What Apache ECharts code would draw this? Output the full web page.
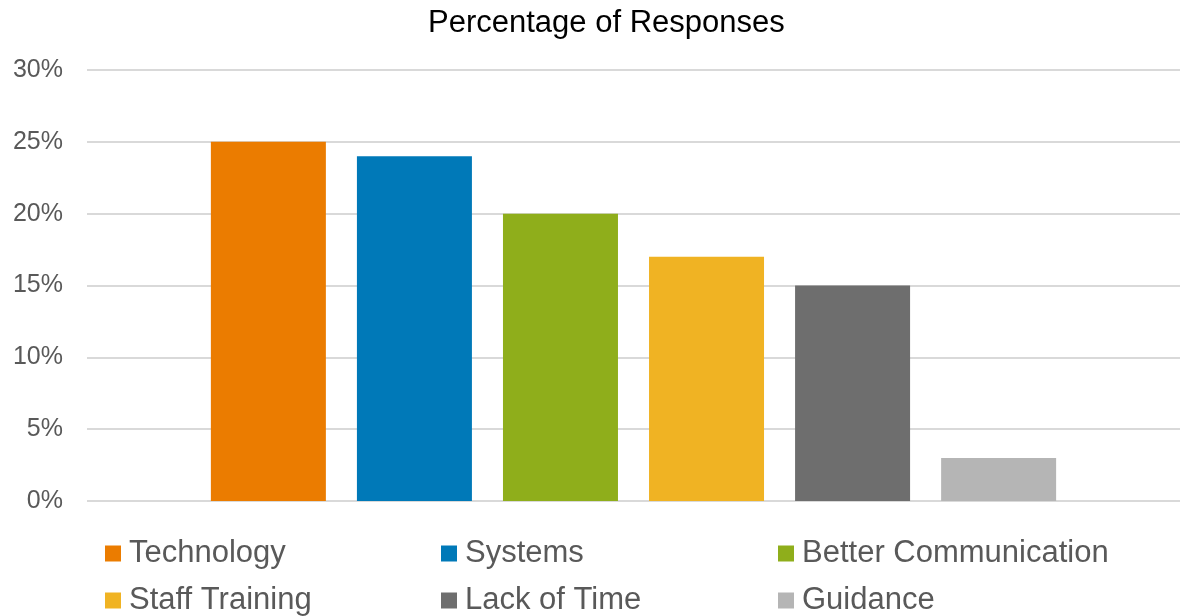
<!DOCTYPE html>
<html>
<head>
<meta charset="utf-8">
<title>Percentage of Responses</title>
<script src="https://cdn.jsdelivr.net/npm/echarts@6/dist/echarts.min.js"></script>
<style>
  html, body { margin: 0; padding: 0; background: #fff; }
  #chart { width: 1180px; height: 616px; }
</style>
</head>
<body>
<div id="chart"></div>
<script>
// --- 数据 ---
const categories = [''];
const seriesNames = ['Technology', 'Systems', 'Better Communication', 'Staff Training', 'Lack of Time', 'Guidance'];
const seriesValues = [25, 24, 20, 17, 15, 3];
const yTicks = [0, 5, 10, 15, 20, 25, 30];

// 配色
const COLORS = ['#EB7C00', '#0079B8', '#8FAE1B', '#F0B323', '#6E6E6E', '#B5B5B5'];
const TEXT = '#595959';
const GRID_LINE = '#D9D9D9';
const FONT = 'Liberation Sans, Arial, sans-serif';

const chart = echarts.init(document.getElementById('chart'));

// 图例：3 列 x 2 行，每项单独定位
const legendLeft = [100, 436, 773];
const legendTop = [533, 580];

const option = {
  backgroundColor: '#fff',
  animation: false,
  title: {
    text: 'Percentage of Responses',
    left: 423,
    top: 3,
    textStyle: { color: '#000', fontSize: 31, fontWeight: 'normal', fontFamily: FONT }
  },
  grid: { left: 87, right: -10, top: 70, bottom: 115, containLabel: false },
  legend: seriesNames.map((name, i) => ({
    left: legendLeft[i % 3],
    top: legendTop[Math.floor(i / 3)],
    data: [name],
    icon: 'rect',
    itemWidth: 16,
    itemHeight: 16,
    textStyle: {
      color: TEXT,
      fontSize: 31,
      padding: [0, 0, 0, 3],
      fontFamily: FONT
    }
  })),
  xAxis: {
    type: 'category',
    data: categories,
    axisLine: { show: false },
    axisTick: { show: false },
    axisLabel: { show: false }
  },
  yAxis: {
    type: 'value',
    min: yTicks[0],
    max: yTicks[yTicks.length - 1],
    interval: 5,
    axisLine: { show: false },
    axisTick: { show: false },
    axisLabel: {
      color: TEXT,
      fontSize: 25,
      margin: 24,
      fontFamily: FONT,
      formatter: '{value}%'
    },
    splitLine: { lineStyle: { color: GRID_LINE, width: 2 } }
  },
  series: seriesNames.map((name, i) => ({
    name: name,
    type: 'bar',
    data: [seriesValues[i]],
    barWidth: 115,
    barGap: '27%',
    itemStyle: { color: COLORS[i] }
  }))
};

chart.setOption(option);
</script>
</body>
</html>
